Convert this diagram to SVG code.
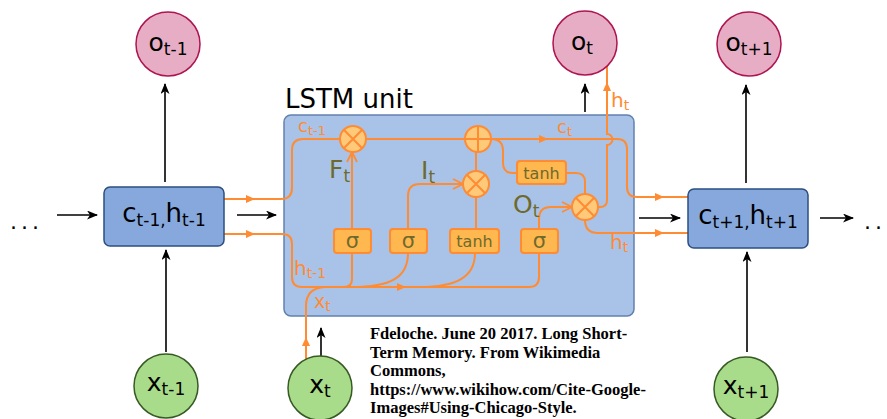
<svg xmlns="http://www.w3.org/2000/svg" width="887" height="419" viewBox="0 0 887 419">
<defs>
<marker id="ah" markerWidth="11" markerHeight="9" refX="10" refY="4.5" orient="auto" markerUnits="userSpaceOnUse"><path d="M0,0 L11,4.5 L0,9 L3,4.5 z" fill="#000"/></marker>
<marker id="ch" markerWidth="14" markerHeight="14" refX="12" refY="7" orient="auto" markerUnits="userSpaceOnUse"><path d="M2,2 L12,7 L2,12" fill="none" stroke="#ff8b33" stroke-width="1.8"/></marker>
</defs>
<style>
.bk{stroke:#000;stroke-width:1.6;fill:none;marker-end:url(#ah)}
.or{stroke:#ff8b33;stroke-width:2;fill:none}
.orc{stroke:#ff8b33;stroke-width:2;fill:none;marker-end:url(#ch)}
.dot{fill:#ff8b33}
.tri{fill:#ff8b33}
.lbl{font-family:"DejaVu Sans",sans-serif;fill:#000}
.ol{font-family:"DejaVu Sans",sans-serif;fill:#ff8b33}
.gl{font-family:"DejaVu Sans",sans-serif;fill:#6e6a2b}
.box{fill:#86a8dc;stroke:#2c4f80;stroke-width:1.5}
.lstm{fill:#a9c3e8;stroke:#6281ad;stroke-width:1.5}
.oc{fill:#e6adc4;stroke:#ad1450;stroke-width:1.5}
.xc{fill:#a8dc8a;stroke:#375a24;stroke-width:1.5}
.op{fill:#ffc97a;stroke:#ff8b33;stroke-width:2}
.sym{stroke:#ff8b33;stroke-width:2;fill:none}
.gate{fill:#ffb74f;stroke:#ff8b33;stroke-width:2}
.cite{font-family:"Liberation Serif",serif;font-weight:bold;font-size:16.5px;fill:#000}
</style>

<g id="lstm-unit">
<rect class="lstm" x="284" y="115" width="350" height="201" rx="7"/>
<text class="lbl" x="285" y="108" font-size="26">LSTM unit</text>
</g>

<g id="connectors">
<path class="bk" d="M57,215 H97"/>
<path class="bk" d="M237,215 H276"/>
<path class="bk" d="M639,218 H680"/>
<path class="bk" d="M820,218 H853"/>
<path class="bk" d="M165,182 V84"/>
<path class="bk" d="M166,352 V250"/>
<path class="bk" d="M585,112 V84"/>
<path class="bk" d="M321,359 V328"/>
<path class="bk" d="M746,183 V85"/>
<path class="bk" d="M747,352 V252"/>

<path class="or" d="M203,199 H281 Q292,199 292,188 V150 Q292,139 303,139 H340"/>
<path class="or" d="M366,139 H465"/>
<path class="or" d="M491,139 H617 Q627,139 627,149 V187 Q627,197 637,197 H698"/>
<path class="or" d="M491,139 Q503,139 503,151 V163 Q503,173 513,173 H517"/>
<path class="or" d="M566,173 H576 Q585,173 585,182 V194"/>
<path class="or" d="M598,207 H600 Q607,207 607,200 V145 A5.5,5.5 0 0 0 607,134 V51"/>
<path class="or" d="M585,220 Q585,233 598,233 H698"/>
<path class="or" d="M205,234 H282 Q292,234 292,244 V277 Q292,287 302,287 H529 Q539,287 539,277 V253"/>
<path class="or" d="M352,253 V279 Q352,287 344,287"/>
<path class="orc" d="M352,229 V152"/>
<path class="or" d="M408,253 C408,278 390,287 352,287"/>
<path class="orc" d="M408,229 V196 Q408,184 420,184 H463"/>
<path class="or" d="M476,229 V197"/>
<path class="or" d="M476,171 V152"/>
<path class="or" d="M475,253 C475,278 455,287 420,287"/>
<path class="orc" d="M539,229 V219 Q539,207 551,207 H572"/>
<path class="or" d="M306,380 V306 Q306,288 325,287"/>

<path class="tri" d="M246,195 L255,199 L246,203 z"/>
<path class="tri" d="M246,230 L255,234 L246,238 z"/>
<path class="tri" d="M655,193 L664,197 L655,201 z"/>
<path class="tri" d="M655,229 L664,233 L655,237 z"/>
<path class="tri" d="M539,135 L548,139 L539,143 z"/>
<path class="tri" d="M397,283 L406,287 L397,291 z"/>
<path class="tri" d="M603,91 L607,82 L611,91 z"/>
<path class="tri" d="M302,346 L306,337 L310,346 z"/>

<circle class="dot" cx="203" cy="199" r="4"/>
<circle class="dot" cx="205" cy="234" r="4"/>
<circle class="dot" cx="698" cy="197" r="4"/>
<circle class="dot" cx="698" cy="233" r="4"/>
<circle class="dot" cx="607" cy="51" r="4"/>
<circle class="dot" cx="306" cy="380" r="4"/>
</g>

<g id="forget-mul">
<circle class="op" cx="353" cy="139" r="13"/>
<path class="sym" d="M343.8,129.8 L362.2,148.2 M362.2,129.8 L343.8,148.2"/>
</g>
<g id="plus">
<circle class="op" cx="478" cy="139" r="13"/>
<path class="sym" d="M465,139 H491 M478,126 V152"/>
</g>
<g id="input-mul">
<circle class="op" cx="476" cy="184" r="13"/>
<path class="sym" d="M466.8,174.8 L485.2,193.2 M485.2,174.8 L466.8,193.2"/>
</g>
<g id="output-mul">
<circle class="op" cx="585" cy="207" r="13"/>
<path class="sym" d="M575.8,197.8 L594.2,216.2 M594.2,197.8 L575.8,216.2"/>
</g>

<g id="tanh-c">
<rect class="gate" x="517" y="161" width="49" height="23" rx="3"/>
<text class="gl" x="541.5" y="178.5" font-size="16" text-anchor="middle">tanh</text>
</g>
<g id="sigma-f">
<rect class="gate" x="334" y="229" width="37" height="24" rx="3"/>
<text class="gl" x="352.5" y="248" font-size="21" text-anchor="middle">σ</text>
</g>
<g id="sigma-i">
<rect class="gate" x="390" y="229" width="37" height="24" rx="3"/>
<text class="gl" x="408.5" y="248" font-size="21" text-anchor="middle">σ</text>
</g>
<g id="tanh-g">
<rect class="gate" x="450" y="229" width="49" height="24" rx="3"/>
<text class="gl" x="474.5" y="247" font-size="16" text-anchor="middle">tanh</text>
</g>
<g id="sigma-o">
<rect class="gate" x="521" y="229" width="37" height="24" rx="3"/>
<text class="gl" x="539.5" y="248" font-size="21" text-anchor="middle">σ</text>
</g>

<g id="labels">
<text class="ol" x="298" y="132" font-size="18">c<tspan font-size="13" dy="3">t-1</tspan></text>
<text class="ol" x="557" y="133" font-size="18">c<tspan font-size="13" dy="3">t</tspan></text>
<text class="ol" x="294" y="275" font-size="20">h<tspan font-size="14" dy="3">t-1</tspan></text>
<text class="ol" x="314" y="308" font-size="19">x<tspan font-size="14" dy="3">t</tspan></text>
<text class="ol" x="611" y="107" font-size="20">h<tspan font-size="14" dy="3">t</tspan></text>
<text class="ol" x="610" y="249" font-size="20">h<tspan font-size="14" dy="3">t</tspan></text>
<text class="gl" x="329" y="178" font-size="25">F<tspan font-size="17" dy="4">t</tspan></text>
<text class="gl" x="421" y="179" font-size="25">I<tspan font-size="17" dy="4">t</tspan></text>
<text class="gl" x="513" y="213" font-size="25">O<tspan font-size="17" dy="4">t</tspan></text>
</g>

<g id="dots-left"><text class="lbl" x="10" y="229" font-size="22" letter-spacing="4">...</text></g>
<g id="dots-right"><text class="lbl" x="864" y="229" font-size="22" letter-spacing="4">..</text></g>

<g id="state-prev">
<rect class="box" x="104" y="187" width="120" height="59" rx="6"/>
<text class="lbl" x="164" y="222" font-size="26" text-anchor="middle">c<tspan font-size="17" dy="4">t-1,</tspan><tspan dy="-4">h</tspan><tspan font-size="17" dy="4">t-1</tspan></text>
</g>
<g id="state-next">
<rect class="box" x="688" y="189" width="120" height="59" rx="6"/>
<text class="lbl" x="748" y="224" font-size="26" text-anchor="middle">c<tspan font-size="17" dy="4">t+1,</tspan><tspan dy="-4">h</tspan><tspan font-size="17" dy="4">t+1</tspan></text>
</g>

<g id="o-prev">
<circle class="oc" cx="168" cy="44" r="32"/>
<text class="lbl" x="168" y="51" font-size="25" text-anchor="middle">o<tspan font-size="17" dy="4">t-1</tspan></text>
</g>
<g id="o-cur">
<circle class="oc" cx="585" cy="43" r="32"/>
<text class="lbl" x="582" y="50" font-size="25" text-anchor="middle">o<tspan font-size="17" dy="4">t</tspan></text>
</g>
<g id="o-next">
<circle class="oc" cx="749" cy="44" r="32"/>
<text class="lbl" x="749" y="51" font-size="25" text-anchor="middle">o<tspan font-size="17" dy="4">t+1</tspan></text>
</g>

<g id="x-prev">
<circle class="xc" cx="166" cy="386" r="32"/>
<text class="lbl" x="166" y="391" font-size="25" text-anchor="middle">x<tspan font-size="17" dy="4">t-1</tspan></text>
</g>
<g id="x-cur">
<circle class="xc" cx="320" cy="388" r="32"/>
<text class="lbl" x="320" y="393" font-size="25" text-anchor="middle">x<tspan font-size="17" dy="4">t</tspan></text>
</g>
<g id="x-next">
<circle class="xc" cx="746" cy="389" r="32"/>
<text class="lbl" x="746" y="394" font-size="25" text-anchor="middle">x<tspan font-size="17" dy="4">t+1</tspan></text>
</g>

<g id="citation">
<text class="cite" x="370" y="339">Fdeloche. June 20 2017. Long Short-</text>
<text class="cite" x="370" y="357.5">Term Memory. From Wikimedia</text>
<text class="cite" x="370" y="376">Commons,</text>
<text class="cite" x="370" y="394.5">https://www.wikihow.com/Cite-Google-</text>
<text class="cite" x="370" y="413">Images#Using-Chicago-Style.</text>
</g>
</svg>
